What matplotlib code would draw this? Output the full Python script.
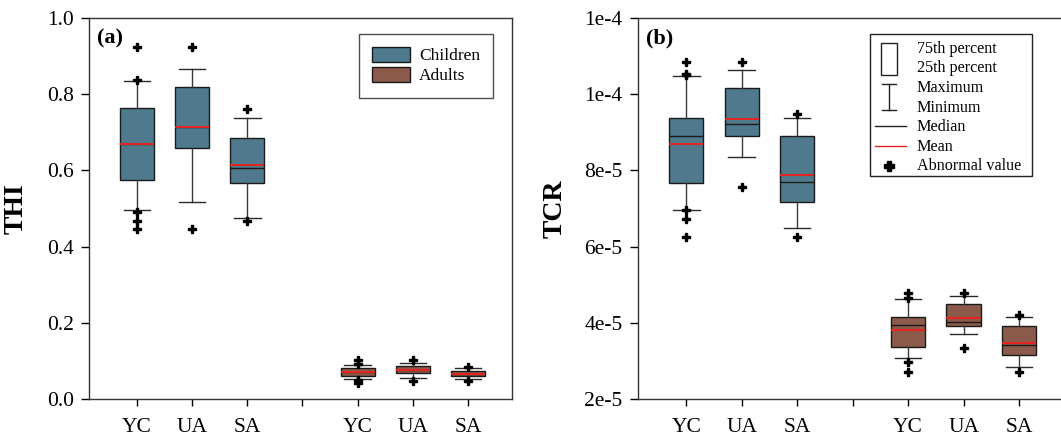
import numpy as np
import matplotlib
matplotlib.use("Agg")
import matplotlib.pyplot as plt
from matplotlib.patches import Patch, Rectangle
from matplotlib.lines import Line2D

plt.rcParams['font.family'] = ['Liberation Serif', 'DejaVu Serif']

# ---------------------------------------------
# data: box statistics
# ---------------------------------------------
groups = ["YC", "UA", "SA"]

# (a) THI
thi_child_q1 = [0.575, 0.658, 0.567]
thi_child_q3 = [0.764, 0.819, 0.685]
thi_child_med = [0.670, 0.715, 0.606]
thi_child_mean = [0.670, 0.715, 0.615]
thi_child_lo = [0.495, 0.516, 0.476]
thi_child_hi = [0.835, 0.865, 0.737]
thi_child_fliers = [[0.924, 0.838, 0.491, 0.468, 0.446], [0.924, 0.446], [0.761, 0.466]]

thi_adult_q1 = [0.060, 0.069, 0.060]
thi_adult_q3 = [0.082, 0.087, 0.074]
thi_adult_med = [0.072, 0.076, 0.066]
thi_adult_mean = [0.072, 0.076, 0.066]
thi_adult_lo = [0.053, 0.056, 0.052]
thi_adult_hi = [0.089, 0.094, 0.080]
thi_adult_fliers = [[0.102, 0.092, 0.050, 0.043], [0.102, 0.046], [0.085, 0.047]]

# (b) TCR
tcr_child_q1 = [7.67e-5, 8.89e-5, 7.18e-5]
tcr_child_q3 = [9.37e-5, 1.016e-4, 8.89e-5]
tcr_child_med = [8.90e-5, 9.22e-5, 7.69e-5]
tcr_child_mean = [8.68e-5, 9.36e-5, 7.87e-5]
tcr_child_lo = [6.97e-5, 8.35e-5, 6.49e-5]
tcr_child_hi = [1.048e-4, 1.064e-4, 9.37e-5]
tcr_child_fliers = [[1.084e-4, 1.054e-4, 1.050e-4, 6.95e-5, 6.72e-5, 6.24e-5],
                    [1.084e-4, 7.56e-5], [9.48e-5, 6.24e-5]]

tcr_adult_q1 = [3.37e-5, 3.92e-5, 3.16e-5]
tcr_adult_q3 = [4.14e-5, 4.48e-5, 3.92e-5]
tcr_adult_med = [3.93e-5, 4.03e-5, 3.42e-5]
tcr_adult_mean = [3.81e-5, 4.12e-5, 3.48e-5]
tcr_adult_lo = [3.07e-5, 3.70e-5, 2.85e-5]
tcr_adult_hi = [4.62e-5, 4.69e-5, 4.15e-5]
tcr_adult_fliers = [[4.78e-5, 4.66e-5, 2.98e-5, 2.72e-5], [4.78e-5, 3.35e-5], [4.21e-5, 2.72e-5]]

thi_ticks = [0.0, 0.2, 0.4, 0.6, 0.8, 1.0]
thi_ticklabels = ["0.0", "0.2", "0.4", "0.6", "0.8", "1.0"]
tcr_ticks = [2e-5, 4e-5, 6e-5, 8e-5, 1e-4, 1.2e-4]
tcr_ticklabels = ["2e-5", "4e-5", "6e-5", "8e-5", "1e-4", "1e-4"]

child_color = "#4f7a8d"
adult_color = "#8b5a4a"


def make_stats(q1, q3, med, mean, lo, hi, fliers):
    out = []
    for i in range(len(q1)):
        out.append(dict(q1=q1[i], q3=q3[i], med=med[i], mean=mean[i],
                        whislo=lo[i], whishi=hi[i], fliers=fliers[i], label=""))
    return out


def draw_boxes(ax, stats, positions, color):
    ax.bxp(stats, positions=positions, widths=0.62, patch_artist=True,
           showmeans=True, meanline=True, capwidths=0.48,
           boxprops=dict(facecolor=color, edgecolor="#1a1a1a", linewidth=1.0),
           medianprops=dict(color="#1a1a1a", linewidth=1.0),
           meanprops=dict(color="#e8231f", linewidth=1.4, linestyle="-"),
           whiskerprops=dict(color="#3a3a3a", linewidth=1.0),
           capprops=dict(color="#2a2a2a", linewidth=1.0),
           flierprops=dict(marker="P", markersize=6, markerfacecolor="black",
                           markeredgecolor="black", linestyle="none"))


def style_axis(ax, ticks, ticklabels, ylabel, panel):
    ax.set_xlim(0.13, 7.8)
    ax.set_xticks([1, 2, 3, 4, 5, 6, 7])
    ax.set_xticklabels(groups + [""] + groups, fontsize=15.5)
    ax.set_yticks(ticks)
    ax.set_yticklabels(ticklabels, fontsize=15.5)
    ax.set_ylim(ticks[0], ticks[-1])
    ax.tick_params(axis="y", direction="out", length=6, width=1, pad=5)
    ax.tick_params(axis="x", direction="out", length=5, width=1, pad=9)
    for s in ax.spines.values():
        s.set_linewidth(1.0)
        s.set_color("#333333")
    ax.set_ylabel(ylabel, fontsize=20, fontweight="bold")
    ax.text(0.02, 0.972, panel, transform=ax.transAxes, fontsize=16,
            fontweight="bold", va="top", ha="left")


fig = plt.figure(figsize=(10.61, 4.37), dpi=100)
ax1 = fig.add_axes([0.0839, 0.087, 0.3987, 0.8719])
ax2 = fig.add_axes([0.6013, 0.087, 0.401, 0.8719])

# ---- (a) THI ----
draw_boxes(ax1, make_stats(thi_child_q1, thi_child_q3, thi_child_med, thi_child_mean,
                           thi_child_lo, thi_child_hi, thi_child_fliers), [1, 2, 3], child_color)
draw_boxes(ax1, make_stats(thi_adult_q1, thi_adult_q3, thi_adult_med, thi_adult_mean,
                           thi_adult_lo, thi_adult_hi, thi_adult_fliers), [5, 6, 7], adult_color)
style_axis(ax1, thi_ticks, thi_ticklabels, "THI", "(a)")
ax1.yaxis.set_label_coords(-0.142, 0.5)

handles = [Patch(facecolor=child_color, edgecolor="#1a1a1a", label="Children"),
           Patch(facecolor=adult_color, edgecolor="#1a1a1a", label="Adults")]
leg = ax1.legend(handles=handles, loc="upper right", bbox_to_anchor=(0.956, 0.958),
                 fontsize=12.5, frameon=True, fancybox=False, handlelength=2.2,
                 handleheight=0.95, labelspacing=0.15, borderpad=0.75, handletextpad=0.55,
                 borderaxespad=0)
leg.get_frame().set_edgecolor("#222222")
leg.get_frame().set_linewidth(1.0)

# ---- (b) TCR ----
draw_boxes(ax2, make_stats(tcr_child_q1, tcr_child_q3, tcr_child_med, tcr_child_mean,
                           tcr_child_lo, tcr_child_hi, tcr_child_fliers), [1, 2, 3], child_color)
draw_boxes(ax2, make_stats(tcr_adult_q1, tcr_adult_q3, tcr_adult_med, tcr_adult_mean,
                           tcr_adult_lo, tcr_adult_hi, tcr_adult_fliers), [5, 6, 7], adult_color)
style_axis(ax2, tcr_ticks, tcr_ticklabels, "TCR", "(b)")
ax2.yaxis.set_label_coords(-0.165, 0.5)

# key panel for box elements (drawn in axes fraction)
tr = ax2.transAxes
ax2.add_patch(Rectangle((0.546, 0.585), 0.381, 0.373, transform=tr, facecolor="white",
                        edgecolor="#222222", linewidth=1.0, zorder=5))
ax2.add_patch(Rectangle((0.572, 0.850), 0.037, 0.085, transform=tr, facecolor="white",
                        edgecolor="#222222", linewidth=1.0, zorder=6))
ax2.add_line(Line2D([0.590, 0.590], [0.759, 0.826], transform=tr, color="#222222", lw=1.0, zorder=6))
ax2.add_line(Line2D([0.573, 0.607], [0.826, 0.826], transform=tr, color="#222222", lw=1.0, zorder=6))
ax2.add_line(Line2D([0.573, 0.607], [0.759, 0.759], transform=tr, color="#222222", lw=1.0, zorder=6))
ax2.add_line(Line2D([0.556, 0.629], [0.717, 0.717], transform=tr, color="#222222", lw=1.0, zorder=6))
ax2.add_line(Line2D([0.556, 0.629], [0.665, 0.665], transform=tr, color="#e8231f", lw=1.0, zorder=6))
ax2.add_line(Line2D([0.591], [0.612], transform=tr, marker="P", markersize=7, color="black",
                    linestyle="none", zorder=6))
key_labels = ["75th percent", "25th percent", "Maximum", "Minimum", "Median", "Mean", "Abnormal value"]
key_y = [0.919, 0.868, 0.815, 0.765, 0.713, 0.662, 0.612]
for lab, yy in zip(key_labels, key_y):
    ax2.text(0.655, yy, lab, transform=tr, fontsize=11.6, va="center", ha="left", zorder=7)

fig.savefig("out.png", dpi=100, facecolor="white")
